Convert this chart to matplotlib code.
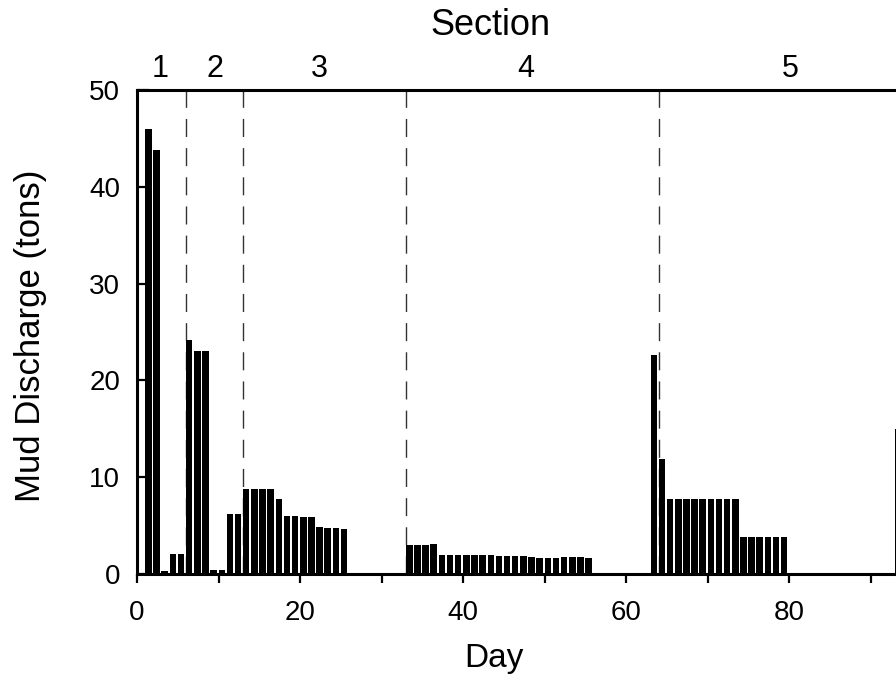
import matplotlib
matplotlib.use('Agg')
import matplotlib.pyplot as plt
from matplotlib.ticker import MultipleLocator

plt.rcParams['font.family'] = ['Liberation Sans', 'DejaVu Sans']

# daily mud discharge (tons)
days_1 = [1, 2, 3, 4, 5]
mud_1 = [46.0, 43.8, 0.3, 2.1, 2.1]
days_2 = [6, 7, 8, 9, 10]
mud_2 = [24.2, 23.0, 23.0, 0.4, 0.4]
days_3 = [11, 12, 13, 14, 15, 16, 17, 18, 19, 20, 21, 22, 23, 24, 25]
mud_3 = [6.2, 6.2, 8.8, 8.8, 8.8, 8.8, 7.8, 6.0, 6.0, 5.9, 5.9, 4.9, 4.8, 4.8, 4.7]
days_4 = [33, 34, 35, 36, 37, 38, 39, 40, 41, 42, 43, 44, 45, 46, 47, 48, 49, 50,
          51, 52, 53, 54, 55]
mud_4 = [3.0, 3.0, 3.0, 3.1, 2.0, 2.0, 2.0, 2.0, 2.0, 2.0, 2.0, 1.9, 1.9, 1.9,
         1.9, 1.8, 1.7, 1.7, 1.7, 1.8, 1.8, 1.8, 1.7]
days_5 = [63, 64, 65, 66, 67, 68, 69, 70, 71, 72, 73, 74, 75, 76, 77, 78, 79, 93]
mud_5 = [22.6, 11.9, 7.8, 7.8, 7.8, 7.8, 7.8, 7.8, 7.8, 7.8, 7.8, 3.8, 3.8, 3.8,
         3.8, 3.8, 3.8, 15.0]

section_bounds = [6, 13, 33, 64]
section_names = ['1', '2', '3', '4', '5']
section_label_day = [2.8, 9.6, 22.4, 47.7, 80.1]

fig = plt.figure(figsize=(8.96, 6.77), dpi=100)
# axes runs off the right edge like the scanned original
ax = fig.add_axes([0.1529, 0.1521, 0.887, 0.7149])

# section borders
for b in section_bounds:
    ax.axvline(b, color='#333333', linewidth=1.0, dashes=(13, 8), zorder=1)

for d, m in [(days_1, mud_1), (days_2, mud_2), (days_3, mud_3), (days_4, mud_4), (days_5, mud_5)]:
    ax.bar(d, m, width=0.8, align='edge', color='black', linewidth=0, zorder=3)

ax.set_xlim(0, 97.5)
ax.set_ylim(0, 50)

for s in ax.spines.values():
    s.set_linewidth(2.2)

ax.xaxis.set_major_locator(MultipleLocator(20))
ax.xaxis.set_minor_locator(MultipleLocator(10))
ax.yaxis.set_major_locator(MultipleLocator(10))
ax.tick_params(axis='x', which='both', direction='out', length=6.5, width=1.6,
               labelsize=20, pad=12)
ax.tick_params(axis='y', which='both', direction='in', length=8.6, width=1.6,
               labelsize=20, pad=12)

# section labels on top
for x, name in zip(section_label_day, section_names):
    ax.text(x, 1.027, name, transform=ax.get_xaxis_transform(), ha='center',
            va='baseline', fontsize=22)
ax.text(43.4, 1.114, 'Section', transform=ax.get_xaxis_transform(), ha='center',
        va='baseline', fontsize=26)

ax.set_xlabel('Day', fontsize=24)
ax.xaxis.set_label_coords(0.449, -0.143)
ax.set_ylabel('Mud Discharge (tons)', fontsize=25, va='center')
ax.yaxis.set_label_coords(-0.134, 0.492)

fig.savefig('out.png', dpi=100)
